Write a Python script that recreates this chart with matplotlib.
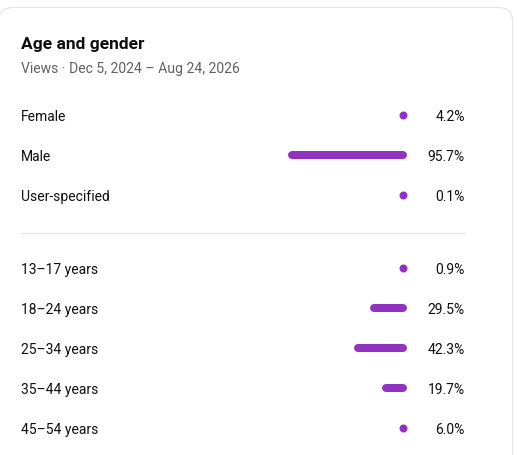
import matplotlib
matplotlib.use("Agg")
import matplotlib.pyplot as plt
from matplotlib.patches import FancyBboxPatch

title = "Age and gender"
subtitle = "Views · Dec 5, 2024 – Aug 24, 2026"
gender_labels = ["Female", "Male", "User-specified"]
gender_values = [4.2, 95.7, 0.1]
age_labels = ["13–17 years", "18–24 years", "25–34 years", "35–44 years", "45–54 years"]
age_values = [0.9, 29.5, 42.3, 19.7, 6.0]

W, H = 517, 456
DPI = 100
fig = plt.figure(figsize=(W / DPI, H / DPI), dpi=DPI)
fig.patch.set_facecolor("white")
plt.rcParams['font.family'] = ['Roboto', 'DejaVu Sans']

ax = fig.add_axes([0, 0, 1, 1])
ax.set_xlim(0, W)
ax.set_ylim(H, 0)
ax.axis("off")

# card
card = FancyBboxPatch((-1, 8.5), 513.5, 470, boxstyle="round,pad=0,rounding_size=14",
                      facecolor="white", edgecolor="#e3e3e3", linewidth=0.8)
ax.add_patch(card)

purple = "#9232c1"
txt = "#0f0f0f"

ax.text(21, 45, title, fontsize=12.5, fontweight="bold", color=txt, va="center", ha="left")
ax.text(21, 69, subtitle, fontsize=10.1, color="#606060", va="center", ha="left")

px_per_pt = DPI / 72.0
row0 = 117
step = 40
rows = []
for i, (l, v) in enumerate(zip(gender_labels, gender_values)):
    rows.append((row0 + i * step, l, v))
age0 = 270
for i, (l, v) in enumerate(zip(age_labels, age_values)):
    rows.append((age0 + i * step, l, v))

ax.plot([21, 465], [233.5, 233.5], color="#e5e5e5", linewidth=0.8)

# bar axes in percent units, bars grow leftwards from right edge at x=407
scale = 1.248  # px per percent
right_px = 407
left_px = right_px - 100 * scale
bax = fig.add_axes([left_px / W, 0, (right_px - left_px) / W, 1])
bax.set_xlim(100, 0)
bax.set_ylim(H, 0)
bax.axis("off")
thick_px = 8
r = (thick_px / 2) / scale
lw = thick_px / px_per_pt
for y, l, v in rows:
    by = y - 1
    if v - r > r:
        bax.plot([r, v - r], [by, by], color=purple, linewidth=lw, solid_capstyle="round")
    else:
        bax.plot([r], [by], color=purple, linestyle="none", marker="o", markersize=lw,
                 markeredgewidth=0, markerfacecolor=purple)
    ax.text(21, y, l, fontsize=10, color=txt, va="center", ha="left")
    ax.text(465, y, f"{v:.1f}%", fontsize=10, color=txt, va="center", ha="right")

fig.savefig("out.png", dpi=DPI, facecolor="white")
